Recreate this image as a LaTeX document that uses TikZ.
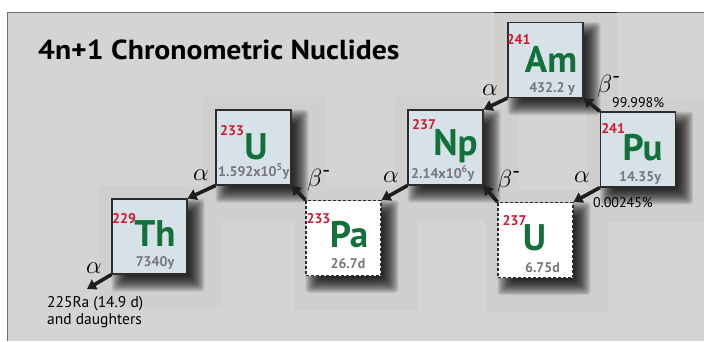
\documentclass[tikz,border=0pt]{standalone}
\usepackage{fontspec}
\setmainfont{PT Sans}
\usetikzlibrary{arrows.meta}
\definecolor{bg}{RGB}{211,212,214}
\definecolor{panel}{RGB}{207,207,206}
\definecolor{boxfill}{RGB}{214,226,232}
\definecolor{boxline}{RGB}{45,45,45}
\definecolor{massred}{RGB}{205,25,45}
\definecolor{symgreen}{RGB}{18,112,58}
\definecolor{halfgray}{RGB}{118,118,122}
\definecolor{framegray}{RGB}{110,110,110}
\definecolor{arrowblack}{RGB}{30,30,30}
% soft drop shadow around a 75x75 box centred at (#1,#2)
\newcommand\nucshadow[2]{%
  \foreach \e in {-7,...,9}{%
    \fill[black,opacity=0.085,rounded corners=3pt]
      (#1-29-\e,#2-29-\e) rectangle (#1+46+\e,#2+46+\e);}}
\begin{document}
\begin{tikzpicture}[x=1pt,y=-1pt,
 nuc/.style={minimum width=75pt,minimum height=75pt,inner sep=0pt,line width=1.1pt,draw=boxline},
 stablebox/.style={nuc,fill=boxfill},
 shortbox/.style={nuc,fill=white,dash pattern=on 3pt off 2pt},
 sym/.style={inner sep=0pt,anchor=base,text height=25pt,text depth=0pt,text=symgreen,font=\fontsize{37}{37}\selectfont\bfseries},
 mass/.style={inner sep=0pt,anchor=base east,text height=8pt,text depth=0pt,text=massred,font=\fontsize{14}{14}\selectfont\bfseries},
 half/.style={inner sep=0pt,anchor=base,text height=9pt,text depth=0pt,text=halfgray,font=\fontsize{14}{14}\selectfont\bfseries},
 decay/.style={line width=3.6pt,-{Triangle[length=9pt,width=11pt]},draw=arrowblack},
 greek/.style={inner sep=0pt,font=\fontsize{31}{31}\selectfont},
 note/.style={inner sep=0pt,font=\fontsize{15.5}{15.5}\selectfont},
 pct/.style={inner sep=0pt,font=\fontsize{14}{14}\selectfont},
 panelbox/.style={fill=panel,draw=none}
]
\useasboundingbox (0,0) rectangle (704,341);
\fill[white] (0,0) rectangle (704,341);
\fill[bg] (7,12) rectangle (704,341);
% faint backdrop panels
\fill[panelbox] (99,186) rectangle (222,308);
\fill[panelbox] (203,97) rectangle (326,220);
\fill[panelbox] (294,187) rectangle (418,310);
\fill[panelbox] (395,97) rectangle (519,220);
\fill[panelbox] (485,190) rectangle (608,313);
\fill[panelbox] (587,99) rectangle (704,222);
\fill[panelbox] (494,12) rectangle (617,97);
\draw[framegray,line width=0.9pt] (7,341) -- (7,12) -- (704,12);
\draw[arrowblack,line width=0.9pt] (494,12) -- (617,12);

% title
\node[anchor=base west,inner sep=0pt,font=\fontsize{27.5}{27.5}\selectfont\bfseries] (title) at (38,59) {\scalebox{1.08}[1]{4n+1 Chronometric Nuclides}};

% shadows
\nucshadow{545.5}{60}
\nucshadow{445.5}{147.5}
\nucshadow{253.5}{147.5}
\nucshadow{149.5}{236.5}
\nucshadow{343.5}{238}
\nucshadow{535.5}{240}
\nucshadow{638}{149.5}

% boxes
\node[stablebox] (am) at (545.5,60) {};
\node[stablebox] (np) at (445.5,147.5) {};
\node[stablebox] (u233) at (253.5,147.5) {};
\node[stablebox] (th) at (149.5,236.5) {};
\node[shortbox] (pa) at (343.5,238) {};
\node[shortbox] (u237) at (535.5,240) {};
\node[stablebox] (pu) at (638,149.5) {};

% box contents
\node[sym] (amS) at (551,72) {Am};
\node[mass] (amM) at ([shift={(6,-28)}]amS.base west) {241};
\node[half] (amH) at (552,92) {432.2 y};

\node[sym] (npS) at (455.5,155) {Np};
\node[mass] (npM) at ([shift={(3,-26)}]npS.base west) {237};
\node[half,anchor=base west] (npH) at (411,178) {2.14x10\textsuperscript{6}y};

\node[sym] (u233S) at (256,159) {U};
\node[mass] (u233M) at ([shift={(0,-24)}]u233S.base west) {233};
\node[half,anchor=base west] (u233H) at (218,176) {1.592x10\textsuperscript{5}y};

\node[sym] (thS) at (155,246) {Th};
\node[mass] (thM) at ([shift={(2,-23)}]thS.base west) {229};
\node[half] (thH) at (155,266) {7340y};

\node[sym] (paS) at (349,247) {Pa};
\node[mass] (paM) at ([shift={(1,-24)}]paS.base west) {233};
\node[half] (paH) at (348,268) {26.7d};

\node[sym] (u237S) at (534.5,250) {U};
\node[mass] (u237M) at ([shift={(4,-25)}]u237S.base west) {237};
\node[half] (u237H) at (542.5,272) {6.75d};

\node[sym] (puS) at (642.5,160) {Pu};
\node[mass] (puM) at ([shift={(3,-27)}]puS.base west) {241};
\node[half] (puH) at (640,181) {14.35y};

% decays
\coordinate (out) at (87,289);
\draw[decay] (am.south west) -- (np.north east);
\draw[decay] (pu.north west) -- (am.south east);
\draw[decay] (pu.south west) -- (u237.north east);
\draw[decay] (u237.north west) -- (np.south east);
\draw[decay] (np.south west) -- (pa.north east);
\draw[decay] (pa.north west) -- (u233.south east);
\draw[decay] (u233.south west) -- (th.north east);
\draw[decay] (th.south west) -- (out);

% labels
\node[greek] (la1) at (490,90) {$\alpha$};
\node[greek,anchor=west] (lb1) at (597,86) {$\beta$\textsuperscript{-}};
\node[pct,anchor=base west] (lp1) at (612,107) {99.998\%};
\node[greek] (la2) at (582,177) {$\alpha$};
\node[pct,anchor=base west] (lp2) at (593,207) {0.00245\%};
\node[greek,anchor=west] (lb2) at (497,181) {$\beta$\textsuperscript{-}};
\node[greek] (la3) at (391,177) {$\alpha$};
\node[greek,anchor=west] (lb3) at (307,180) {$\beta$\textsuperscript{-}};
\node[greek] (la4) at (201,175) {$\alpha$};
\node[greek] (la5) at (94,268) {$\alpha$};

\node[note,anchor=base west] (ra) at (47,307) {225Ra (14.9 d)};
\node[note,anchor=base west] (dau) at (47,324) {and daughters};
\end{tikzpicture}
\end{document}
